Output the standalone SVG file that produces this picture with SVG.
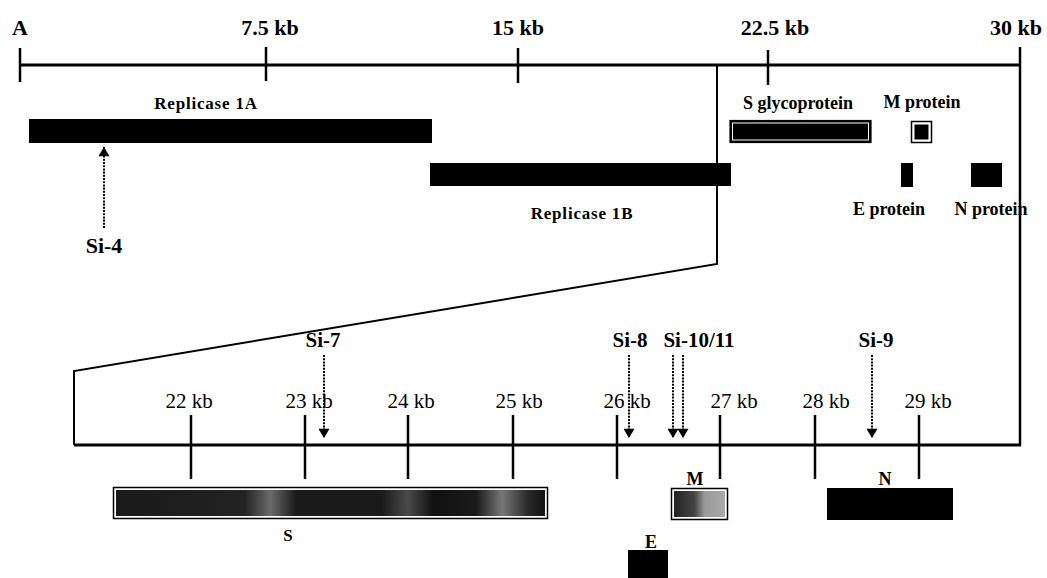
<svg xmlns="http://www.w3.org/2000/svg" width="1047" height="578" viewBox="0 0 1047 578">
<style>
.b{font-family:"Liberation Serif","Times New Roman",serif;font-weight:bold;fill:#000}
.r{font-family:"Liberation Serif","Times New Roman",serif;fill:#000}
.ax{stroke:#000;stroke-width:3;fill:none}
.tk{stroke:#000;stroke-width:2.5}
.ln{stroke:#000;stroke-width:2;fill:none}
.ds{stroke:#000;stroke-width:2;stroke-dasharray:2 1.2;fill:none}
</style>
<defs>
<marker id="ah" viewBox="0 0 10 12" refX="10" refY="6" markerWidth="11" markerHeight="11" markerUnits="userSpaceOnUse" orient="auto">
<path d="M0,0 L10,6 L0,12 Z" fill="#000"/>
</marker>
<linearGradient id="sg" x1="0" x2="1" y1="0" y2="0">
<stop offset="0" stop-color="#1a1a1a"/>
<stop offset="0.3" stop-color="#222"/>
<stop offset="0.36" stop-color="#6a6a6a"/>
<stop offset="0.42" stop-color="#1a1a1a"/>
<stop offset="0.62" stop-color="#1a1a1a"/>
<stop offset="0.68" stop-color="#4a4a4a"/>
<stop offset="0.74" stop-color="#111"/>
<stop offset="0.84" stop-color="#1a1a1a"/>
<stop offset="0.9" stop-color="#777"/>
<stop offset="0.96" stop-color="#2a2a2a"/>
<stop offset="1" stop-color="#111"/>
</linearGradient>
<linearGradient id="mg" x1="0" x2="1" y1="0" y2="0">
<stop offset="0" stop-color="#222"/>
<stop offset="0.4" stop-color="#444"/>
<stop offset="0.6" stop-color="#999"/>
<stop offset="1" stop-color="#aaa"/>
</linearGradient>
</defs>

<g id="connectors">
<line class="ax" x1="20" y1="65" x2="1020" y2="65"/>
<line class="tk" x1="20" y1="48" x2="20" y2="82"/>
<line class="tk" x1="266" y1="47" x2="266" y2="81"/>
<line class="tk" x1="518" y1="48" x2="518" y2="83"/>
<line class="tk" x1="768" y1="50" x2="768" y2="85"/>
<line class="tk" x1="1020" y1="47" x2="1020" y2="446"/>
<polyline class="ln" points="717,65 717,264 74,371 74,445"/>
<line class="ax" x1="74" y1="445" x2="1021" y2="445"/>
<line class="tk" x1="191" y1="415" x2="191" y2="479"/>
<line class="tk" x1="305" y1="415" x2="305" y2="479"/>
<line class="tk" x1="408" y1="415" x2="408" y2="479"/>
<line class="tk" x1="513" y1="415" x2="513" y2="479"/>
<line class="tk" x1="617" y1="415" x2="617" y2="479"/>
<line class="tk" x1="720" y1="415" x2="720" y2="479"/>
<line class="tk" x1="815" y1="415" x2="815" y2="479"/>
<line class="tk" x1="919" y1="415" x2="919" y2="479"/>
<line class="ds" x1="104" y1="228" x2="104" y2="147" marker-end="url(#ah)"/>
<line class="ds" x1="324" y1="355" x2="324" y2="438" marker-end="url(#ah)"/>
<line class="ds" x1="629" y1="355" x2="629" y2="438" marker-end="url(#ah)"/>
<line class="ds" x1="673" y1="355" x2="673" y2="438" marker-end="url(#ah)"/>
<line class="ds" x1="683" y1="355" x2="683" y2="438" marker-end="url(#ah)"/>
<line class="ds" x1="872" y1="355" x2="872" y2="438" marker-end="url(#ah)"/>
</g>

<g id="axis-labels">
<text class="b" x="20" y="35" font-size="22" text-anchor="middle">A</text>
<text class="b" x="270" y="35" font-size="22" text-anchor="middle">7.5 kb</text>
<text class="b" x="518" y="35" font-size="22" text-anchor="middle">15 kb</text>
<text class="b" x="775" y="35" font-size="22" text-anchor="middle">22.5 kb</text>
<text class="b" x="1016" y="35" font-size="22" text-anchor="middle">30 kb</text>
<text class="r" x="189" y="408" font-size="21" text-anchor="middle">22 kb</text>
<text class="r" x="309" y="408" font-size="21" text-anchor="middle">23 kb</text>
<text class="r" x="411" y="408" font-size="21" text-anchor="middle">24 kb</text>
<text class="r" x="519" y="408" font-size="21" text-anchor="middle">25 kb</text>
<text class="r" x="627" y="408" font-size="21" text-anchor="middle">26 kb</text>
<text class="r" x="734" y="408" font-size="21" text-anchor="middle">27 kb</text>
<text class="r" x="826" y="408" font-size="21" text-anchor="middle">28 kb</text>
<text class="r" x="928" y="408" font-size="21" text-anchor="middle">29 kb</text>
</g>

<g id="replicase1a">
<rect x="29" y="119" width="403" height="24" fill="#000"/>
<text class="b" x="206" y="109" font-size="17" letter-spacing="0.8" text-anchor="middle">Replicase 1A</text>
</g>
<g id="replicase1b">
<rect x="430" y="163" width="301" height="23" fill="#000"/>
<text class="b" x="582" y="219" font-size="17" letter-spacing="0.8" text-anchor="middle">Replicase 1B</text>
</g>
<g id="s-glycoprotein">
<rect x="730" y="120.5" width="141" height="22" fill="#000" stroke="#000" stroke-width="1.2"/>
<rect x="732.5" y="123" width="136" height="17" fill="#000" stroke="#fff" stroke-width="1"/>
<text class="b" x="798" y="109" font-size="18" text-anchor="middle">S glycoprotein</text>
</g>
<g id="m-protein">
<rect x="911.5" y="121.5" width="20" height="21" fill="#fff" stroke="#000" stroke-width="1.5"/>
<rect x="914.5" y="124.5" width="14" height="15" fill="#000"/>
<text class="b" x="922" y="108" font-size="18" text-anchor="middle">M protein</text>
</g>
<g id="e-protein">
<rect x="901" y="163" width="12" height="24" fill="#000"/>
<text class="b" x="889" y="215" font-size="18" text-anchor="middle">E protein</text>
</g>
<g id="n-protein">
<rect x="971" y="163" width="31" height="24" fill="#000"/>
<text class="b" x="991" y="215" font-size="18" text-anchor="middle">N protein</text>
<line x1="1020" y1="190" x2="1020" y2="222" stroke="#000" stroke-width="2"/>
</g>

<g id="si-labels">
<text class="b" x="104" y="253" font-size="22" text-anchor="middle">Si-4</text>
<text class="b" x="323" y="347" font-size="21" text-anchor="middle">Si-7</text>
<text class="b" x="630" y="347" font-size="21" text-anchor="middle">Si-8</text>
<text class="b" x="699" y="347" font-size="21" text-anchor="middle">Si-10/11</text>
<text class="b" x="876" y="347" font-size="21" text-anchor="middle">Si-9</text>
</g>

<g id="gene-s">
<rect x="113.5" y="487.5" width="434" height="31" fill="#fff" stroke="#000" stroke-width="1.5"/>
<rect x="116" y="490" width="429" height="26" fill="url(#sg)"/>
<text class="b" x="288" y="541" font-size="17" text-anchor="middle">S</text>
</g>
<g id="gene-m">
<rect x="671.5" y="488.5" width="56" height="31" fill="#fff" stroke="#000" stroke-width="1.5"/>
<rect x="674" y="491" width="51" height="26" fill="url(#mg)"/>
<text class="b" x="695" y="485" font-size="18" text-anchor="middle">M</text>
</g>
<g id="gene-n">
<rect x="827" y="488" width="126" height="32" fill="#000"/>
<text class="b" x="885" y="485" font-size="18" text-anchor="middle">N</text>
</g>
<g id="gene-e">
<rect x="628" y="550" width="40" height="28" fill="#000"/>
<text class="b" x="651" y="548" font-size="18" text-anchor="middle">E</text>
</g>
</svg>
